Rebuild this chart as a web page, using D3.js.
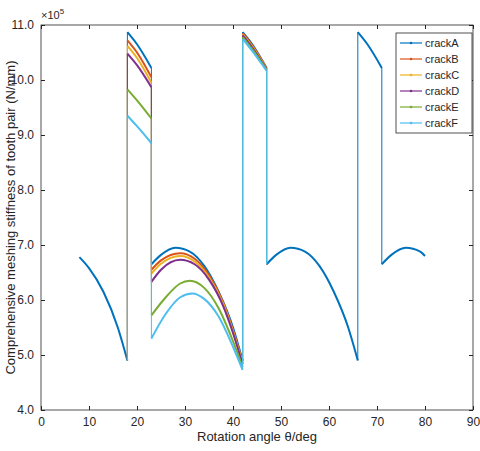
<!DOCTYPE html><html><head><meta charset="utf-8"><script src="https://cdn.jsdelivr.net/npm/d3@7"></script>
<style>body{margin:0;background:#fff}text{font-family:"Liberation Sans",Arial,sans-serif;fill:#262626}</style></head><body>
<script>
const names=["crackA","crackB","crackC","crackD","crackE","crackF"];
const colors=["#0072BD","#D95319","#EDB120","#7E2F8E","#77AC30","#4DBEEE"];
const xTicks=[0,10,20,30,40,50,60,70,80,90];
const yTicks=[4,5,6,7,8,9,10,11];
const crackA=[[8,6.78],[10,6.58],[13,6.15],[16,5.5],[18,4.9],[18,10.87],[20,10.65],[23,10.22],[23,6.65],[25,6.82],[28,6.95],[31,6.88],[34,6.62],[37,6.15],[40,5.5],[42,4.9],[42,10.87],[44,10.65],[47,10.22],[47,6.65],[49,6.82],[52,6.95],[55,6.88],[58,6.62],[61,6.15],[64,5.5],[66,4.9],[66,10.87],[68,10.65],[71,10.22],[71,6.65],[73,6.82],[76,6.95],[79,6.88],[80,6.8]];
const crackB=[[18,4.9],[18,10.72],[20,10.5],[23,10.05],[23,6.55],[25,6.72],[29,6.85],[32,6.75],[35,6.45],[38,5.95],[40,5.45],[42,4.88],[42,10.85],[44,10.63],[47,10.21],[47,6.65]];
const crackC=[[18,4.9],[18,10.62],[20,10.4],[23,9.95],[23,6.48],[25,6.66],[29,6.8],[32,6.7],[35,6.41],[38,5.92],[40,5.43],[42,4.85],[42,10.83],[44,10.61],[47,10.2],[47,6.65]];
const crackD=[[18,4.9],[18,10.48],[20,10.27],[23,9.87],[23,6.33],[25,6.55],[29,6.73],[32,6.65],[35,6.37],[38,5.88],[40,5.4],[42,4.83],[42,10.81],[44,10.59],[47,10.19],[47,6.65]];
const crackE=[[18,4.9],[18,9.83],[20,9.63],[23,9.3],[23,5.72],[26,6.05],[29,6.3],[31,6.35],[34,6.22],[37,5.85],[40,5.25],[42,4.78],[42,10.78],[44,10.56],[47,10.18],[47,6.65]];
const crackF=[[18,4.9],[18,9.35],[20,9.16],[23,8.85],[23,5.3],[26,5.75],[29,6.05],[31.5,6.12],[34,6.02],[37,5.7],[40,5.15],[42,4.73],[42,10.75],[44,10.53],[47,10.17],[47,6.65]];
const series=[crackA,crackB,crackC,crackD,crackE,crackF];
const W=480,H=451,L=41,R=473,T=25,B=410;
const svg=d3.select("body").append("svg").attr("width",W).attr("height",H);
const x=d3.scaleLinear().domain([0,90]).range([L,R]);
const y=d3.scaleLinear().domain([4,11]).range([B,T]);
const ax=svg.append("g").attr("transform",`translate(0,${B})`).call(d3.axisBottom(x).tickValues(xTicks).tickSizeInner(-4).tickSizeOuter(0).tickPadding(7));
const ay=svg.append("g").attr("transform",`translate(${L},0)`).call(d3.axisLeft(y).tickValues(yTicks).tickSizeInner(-4).tickSizeOuter(0).tickPadding(7));
svg.append("g").attr("transform",`translate(0,${T})`).call(d3.axisTop(x).tickValues(xTicks).tickSizeInner(-4).tickSizeOuter(0).tickFormat(""));
svg.append("g").attr("transform",`translate(${R},0)`).call(d3.axisRight(y).tickValues(yTicks).tickSizeInner(-4).tickSizeOuter(0).tickFormat(""));
svg.selectAll(".domain").remove();
svg.selectAll(".tick line").attr("stroke","#262626");
svg.selectAll(".tick text").attr("font-size",12).style("fill","#262626");
svg.append("rect").attr("x",L).attr("y",T).attr("width",R-L).attr("height",B-T).attr("fill","none").attr("stroke","#262626").attr("stroke-width",0.8);
const line=d3.line().x(d=>x(d[0])).y(d=>y(d[1])).curve(d3.curveMonotoneX);
series.forEach((s,k)=>{
  const g=svg.append("g").attr("stroke",colors[k]).attr("fill","none");
  let seg=[s[0]];
  const flush=()=>{if(seg.length>1)g.append("path").attr("d",line(seg)).attr("stroke-width",2);};
  for(let i=1;i<s.length;i++){
    if(s[i][0]===s[i-1][0]){flush();g.append("line").attr("x1",x(s[i][0])).attr("x2",x(s[i][0])).attr("y1",y(s[i-1][1])).attr("y2",y(s[i][1])).attr("stroke-width",1);seg=[s[i]];}
    else seg.push(s[i]);
  }
  flush();
});
svg.append("text").attr("x",L).attr("y",T-6).attr("font-size",11).html('×10<tspan dy="-5" font-size="8">5</tspan>');
svg.append("text").attr("x",(L+R)/2).attr("y",441).attr("text-anchor","middle").attr("font-size",13).text("Rotation angle θ/deg");
svg.append("text").attr("transform",`translate(15,${(T+B)/2}) rotate(-90)`).attr("text-anchor","middle").attr("font-size",13).text("Comprehensive meshing stiffness of tooth pair (N/mm)");
const lg=svg.append("g").attr("transform","translate(396,33)");
lg.append("rect").attr("width",76).attr("height",100).attr("fill","#fff").attr("stroke","#262626").attr("stroke-width",0.8);
names.forEach((n,i)=>{const yy=10+i*16;
  lg.append("line").attr("x1",4).attr("x2",26).attr("y1",yy).attr("y2",yy).attr("stroke",colors[i]).attr("stroke-width",1.2);
  lg.append("circle").attr("cx",15).attr("cy",yy).attr("r",1.3).attr("fill",colors[i]);
  lg.append("text").attr("x",29).attr("y",yy+4).attr("font-size",11).text(n);});
</script></body></html>
